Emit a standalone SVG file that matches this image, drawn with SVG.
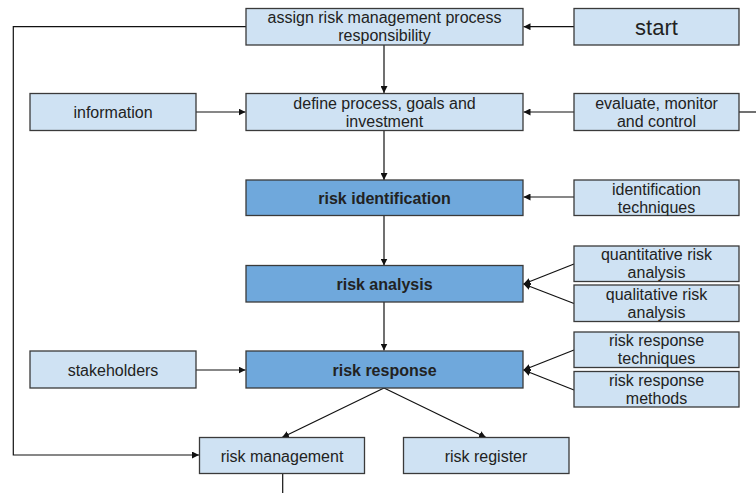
<svg xmlns="http://www.w3.org/2000/svg" width="756" height="493" viewBox="0 0 756 493">
  <style>
    .light { fill: #cfe2f3; stroke: #3a3a3a; stroke-width: 1.3; }
    .dark { fill: #6fa8dc; stroke: #3a3a3a; stroke-width: 1.3; }
    text { font-family: "Liberation Sans", Arial, sans-serif; font-size: 16px; fill: #222; text-anchor: middle; }
    .bold { font-weight: bold; }
    .big { font-size: 22px; }
    .edge { fill: none; stroke: #111; stroke-width: 1.2; }
  </style>
  <defs>
    <marker id="arrow" viewBox="0 0 10 10" refX="10" refY="5" markerWidth="7" markerHeight="7" markerUnits="userSpaceOnUse" orient="auto">
      <path d="M0,0 L10,5 L0,10 z" fill="#111"/>
    </marker>
  </defs>

  <g id="connectors">
    <path class="edge" d="M574,26.7 H523.5" marker-end="url(#arrow)"/>
    <path class="edge" d="M384,45 V93" marker-end="url(#arrow)"/>
    <path class="edge" d="M196,112 H245.5" marker-end="url(#arrow)"/>
    <path class="edge" d="M756,112 H739"/>
    <path class="edge" d="M574,112 H523.5" marker-end="url(#arrow)"/>
    <path class="edge" d="M384,131 V180" marker-end="url(#arrow)"/>
    <path class="edge" d="M574,197 H523.5" marker-end="url(#arrow)"/>
    <path class="edge" d="M384,216 V265.5" marker-end="url(#arrow)"/>
    <path class="edge" d="M574,264 L523.5,284" marker-end="url(#arrow)"/>
    <path class="edge" d="M574,303.5 L523.5,284" marker-end="url(#arrow)"/>
    <path class="edge" d="M384,302 V350.5" marker-end="url(#arrow)"/>
    <path class="edge" d="M196,370 H245.5" marker-end="url(#arrow)"/>
    <path class="edge" d="M574,350 L523.5,370" marker-end="url(#arrow)"/>
    <path class="edge" d="M574,390 L523.5,370" marker-end="url(#arrow)"/>
    <path class="edge" d="M384,388 L282,437.5" marker-end="url(#arrow)"/>
    <path class="edge" d="M384,388 L486,437.5" marker-end="url(#arrow)"/>
    <path class="edge" d="M246,26.7 H13.3 V455 H199" marker-end="url(#arrow)"/>
    <path class="edge" d="M282.7,473.5 V493"/>
  </g>

  <g id="assign">
    <rect class="light" x="246" y="8.5" width="277" height="36.5"/>
    <text x="384.5" y="23">assign risk management process</text>
    <text x="384.5" y="41">responsibility</text>
  </g>
  <g id="start">
    <rect class="light" x="574" y="8.5" width="165" height="36.5"/>
    <text class="big" x="656.5" y="34.5">start</text>
  </g>
  <g id="information">
    <rect class="light" x="30" y="93.5" width="166" height="37"/>
    <text x="113" y="118">information</text>
  </g>
  <g id="define">
    <rect class="light" x="246" y="93.5" width="277" height="37"/>
    <text x="384.5" y="108.5">define process, goals and</text>
    <text x="384.5" y="127">investment</text>
  </g>
  <g id="evaluate">
    <rect class="light" x="574" y="93.5" width="165" height="37"/>
    <text x="656.5" y="108.5">evaluate, monitor</text>
    <text x="656.5" y="127">and control</text>
  </g>
  <g id="identification">
    <rect class="dark" x="246" y="180" width="277" height="35.5"/>
    <text class="bold" x="384.5" y="204">risk identification</text>
  </g>
  <g id="identification-techniques">
    <rect class="light" x="574" y="180" width="165" height="35.5"/>
    <text x="656.5" y="195">identification</text>
    <text x="656.5" y="213">techniques</text>
  </g>
  <g id="analysis">
    <rect class="dark" x="246" y="265.5" width="277" height="36.5"/>
    <text class="bold" x="384.5" y="290">risk analysis</text>
  </g>
  <g id="quantitative">
    <rect class="light" x="574" y="246" width="165" height="35.5"/>
    <text x="656.5" y="260">quantitative risk</text>
    <text x="656.5" y="278">analysis</text>
  </g>
  <g id="qualitative">
    <rect class="light" x="574" y="285" width="165" height="36.5"/>
    <text x="656.5" y="299.5">qualitative risk</text>
    <text x="656.5" y="317.5">analysis</text>
  </g>
  <g id="stakeholders">
    <rect class="light" x="30" y="351" width="166" height="37"/>
    <text x="113" y="375.5">stakeholders</text>
  </g>
  <g id="response">
    <rect class="dark" x="246" y="351" width="277" height="37"/>
    <text class="bold" x="384.5" y="375.5">risk response</text>
  </g>
  <g id="response-techniques">
    <rect class="light" x="574" y="332" width="165" height="35.5"/>
    <text x="656.5" y="346">risk response</text>
    <text x="656.5" y="364">techniques</text>
  </g>
  <g id="response-methods">
    <rect class="light" x="574" y="371.5" width="165" height="35.5"/>
    <text x="656.5" y="386">risk response</text>
    <text x="656.5" y="404">methods</text>
  </g>
  <g id="risk-management">
    <rect class="light" x="199.5" y="437.5" width="165" height="36"/>
    <text x="282" y="461.5">risk management</text>
  </g>
  <g id="risk-register">
    <rect class="light" x="403.5" y="437.5" width="165.5" height="36"/>
    <text x="486" y="461.5">risk register</text>
  </g>
</svg>
